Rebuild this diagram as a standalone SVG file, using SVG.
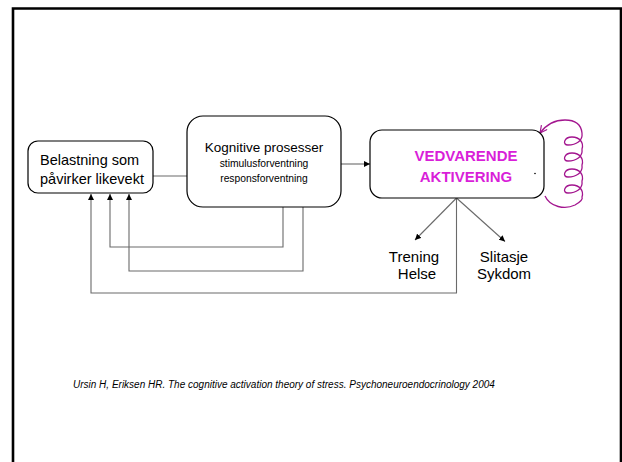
<svg xmlns="http://www.w3.org/2000/svg" width="622" height="462" viewBox="0 0 622 462">
<style>
.box{fill:#fff;stroke:#000;stroke-width:1.2}
.ln{fill:none;stroke:#6a6a6a;stroke-width:1.1}
.t{font-family:"Liberation Sans",Arial,sans-serif;fill:#000}
.mag{font-family:"Liberation Sans",Arial,sans-serif;font-weight:bold;fill:#d91fd9;font-size:15px}
</style>
<defs>
<marker id="ah" viewBox="0 0 8 8" refX="8" refY="4" markerWidth="6" markerHeight="6" markerUnits="userSpaceOnUse" orient="auto">
<path d="M0,0 L8,4 L0,8 z" fill="#000"/>
</marker>
<marker id="mh" viewBox="0 0 10 10" refX="9" refY="5" markerWidth="9" markerHeight="9" markerUnits="userSpaceOnUse" orient="auto">
<path d="M1,1 L9,5 L1,9" fill="none" stroke="#a3168f" stroke-width="1.3"/>
</marker>
</defs>
<rect width="622" height="462" fill="#fff"/>
<path d="M13,462 V8.5 H621 V462" fill="none" stroke="#000" stroke-width="2.6"/>
<g id="connectors">
<path class="ln" d="M153,176 H187"/>
<path class="ln" d="M341,164 H370" marker-end="url(#ah)"/>
<path class="ln" d="M283,207 V247 H110 V194" marker-end="url(#ah)"/>
<path class="ln" d="M303,207 V271 H129 V194" marker-end="url(#ah)"/>
<path class="ln" d="M456.5,198 V293 H91 V194" marker-end="url(#ah)"/>
<path class="ln" d="M456.5,198 L415,240" marker-end="url(#ah)"/>
<path class="ln" d="M456.5,198 L505,241.5" marker-end="url(#ah)"/>
<path d="M545,196 C550,207 565,210 575,205 C582,201 583,199 582,197 C584,191 580,185 572,185 C564,185 562,193 568,193 C576,193 583,189 582,181 C584,175 580,169 572,169 C564,169 562,177 568,177 C576,177 583,173 582,165 C584,159 580,153 572,153 C564,153 562,161 568,161 C576,161 583,157 582,149 C584,143 580,137 572,137 C564,137 562,145 568,145 C576,145 583,141 582,133 C581,124 575,120 565,120 C555,120 546,125 540,133" fill="none" stroke="#a3168f" stroke-width="1.3" marker-end="url(#mh)"/>
</g>
<g id="belastning">
<rect class="box" x="28" y="141" width="125" height="52" rx="10"/>
<text class="t" font-size="14.5" x="40" y="165">Belastning som</text>
<text class="t" font-size="14.5" x="40" y="184">påvirker likevekt</text>
</g>
<g id="kognitive">
<rect class="box" x="187" y="116" width="154" height="91" rx="16"/>
<text class="t" font-size="13.5" x="264" y="152" text-anchor="middle">Kognitive prosesser</text>
<text class="t" font-size="10.3" x="264" y="167" text-anchor="middle">stimulusforventning</text>
<text class="t" font-size="10.3" x="264" y="182" text-anchor="middle">responsforventning</text>
</g>
<g id="aktivering">
<rect class="box" x="370" y="130" width="174" height="68" rx="12"/>
<text class="mag" x="466" y="161" text-anchor="middle">VEDVARENDE</text>
<text class="mag" x="466" y="182" text-anchor="middle">AKTIVERING</text>
<circle cx="535" cy="173.5" r="0.8" fill="#000"/>
</g>
<g id="trening">
<text class="t" font-size="15" x="414" y="262" text-anchor="middle">Trening</text>
<text class="t" font-size="15" x="417" y="279" text-anchor="middle">Helse</text>
</g>
<g id="slitasje">
<text class="t" font-size="15" x="504" y="262" text-anchor="middle">Slitasje</text>
<text class="t" font-size="15" x="504" y="279" text-anchor="middle">Sykdom</text>
</g>
<text class="t" font-size="10" font-style="italic" x="73" y="388" fill="#000">Ursin H, Eriksen HR. The cognitive activation theory of stress. Psychoneuroendocrinology 2004</text>
</svg>
